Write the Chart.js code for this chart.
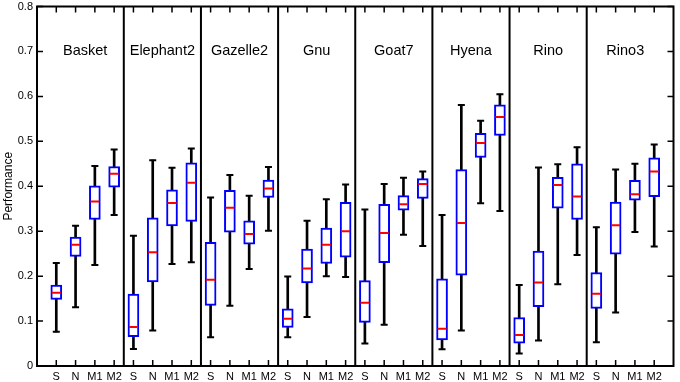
<!DOCTYPE html>
<html>
<head>
<meta charset="utf-8">
<script src="https://cdn.jsdelivr.net/npm/chart.js@4"></script>
<style>
  body { margin: 0; background: #fff; }
  #wrap { width: 680px; height: 382px; }
</style>
</head>
<body>
<div id="wrap"><canvas id="myChart" width="680" height="382"></canvas></div>
<script>
/*----------------------------data------------------------------------*/
var groups = ['Basket', 'Elephant2', 'Gazelle2', 'Gnu', 'Goat7', 'Hyena', 'Rino', 'Rino3'];
var methods = ['S', 'N', 'M1', 'M2'];

// one value per box, 4 boxes per group (S, N, M1, M2)
var mins = [
  0.076, 0.131, 0.225, 0.336,
  0.038, 0.079, 0.227, 0.231,
  0.064, 0.134, 0.216, 0.301,
  0.064, 0.109, 0.200, 0.198,
  0.050, 0.092, 0.292, 0.267,
  0.037, 0.079, 0.362, 0.345,
  0.028, 0.057, 0.182, 0.247,
  0.053, 0.119, 0.298, 0.266
];
var q1s = [
  0.148, 0.244, 0.326, 0.398,
  0.065, 0.187, 0.312, 0.322,
  0.135, 0.298, 0.271, 0.375,
  0.086, 0.185, 0.228, 0.242,
  0.097, 0.230, 0.347, 0.373,
  0.058, 0.202, 0.464, 0.513,
  0.051, 0.132, 0.351, 0.326,
  0.128, 0.249, 0.369, 0.377
];
var medians = [
  0.163, 0.270, 0.366, 0.428,
  0.087, 0.253, 0.363, 0.408,
  0.192, 0.352, 0.294, 0.395,
  0.105, 0.217, 0.270, 0.300,
  0.141, 0.296, 0.360, 0.405,
  0.083, 0.318, 0.496, 0.554,
  0.069, 0.186, 0.403, 0.377,
  0.161, 0.313, 0.382, 0.433
];
var q3s = [
  0.180, 0.287, 0.401, 0.444,
  0.160, 0.330, 0.392, 0.452,
  0.275, 0.391, 0.323, 0.414,
  0.127, 0.260, 0.307, 0.364,
  0.190, 0.360, 0.379, 0.417,
  0.194, 0.437, 0.518, 0.581,
  0.108, 0.256, 0.420, 0.450,
  0.208, 0.365, 0.413, 0.463
];
var maxs = [
  0.229, 0.312, 0.445, 0.482,
  0.290, 0.458, 0.441, 0.484,
  0.375, 0.425, 0.379, 0.443,
  0.199, 0.323, 0.371, 0.404,
  0.348, 0.405, 0.419, 0.433,
  0.336, 0.581, 0.546, 0.605,
  0.180, 0.442, 0.449, 0.487,
  0.309, 0.437, 0.450, 0.493
];
var yTicks = [0, 0.1, 0.2, 0.3, 0.4, 0.5, 0.6, 0.7, 0.8];

/*----------------------------build------------------------------------*/
// one empty slot at each end gives the extra margin of the original axes
var labels = [''];
groups.forEach(function () { labels = labels.concat(methods); });
labels.push('');

function pad(arr) { return [null].concat(arr, [null]); }

var boxData = pad(q1s.map(function (v, i) { return [v, q3s[i]]; }));
var whiskerData = pad(mins.map(function (v, i) { return [v, maxs[i]]; }));

var FONT = '"Liberation Sans", Arial, Helvetica, sans-serif';

var framePlugin = {
  id: 'frame',
  afterDraw: function (chart) {
    var ctx = chart.ctx, a = chart.chartArea;
    var xs = chart.scales.x, ys = chart.scales.y;
    ctx.save();
    ctx.strokeStyle = '#000';
    ctx.lineWidth = 1.5;
    // inward tick marks
    ctx.beginPath();
    for (var i = 1; i < labels.length - 1; i++) {
      var x = xs.getPixelForValue(i);
      ctx.moveTo(x, a.bottom); ctx.lineTo(x, a.bottom - 6);
      ctx.moveTo(x, a.top); ctx.lineTo(x, a.top + 6);
    }
    yTicks.forEach(function (t) {
      var y = ys.getPixelForValue(t);
      ctx.moveTo(a.left, y); ctx.lineTo(a.left + 6, y);
      ctx.moveTo(a.right, y); ctx.lineTo(a.right - 6, y);
    });
    ctx.stroke();
    // group separators
    ctx.lineWidth = 2;
    ctx.beginPath();
    for (var g = 1; g < groups.length; g++) {
      var sx = (xs.getPixelForValue(g * 4) + xs.getPixelForValue(g * 4 + 1)) / 2;
      ctx.moveTo(sx, a.top); ctx.lineTo(sx, a.bottom);
    }
    ctx.stroke();
    ctx.strokeRect(a.left, a.top, a.right - a.left, a.bottom - a.top);
    // group names
    ctx.fillStyle = '#000';
    ctx.font = '14.5px ' + FONT;
    ctx.textAlign = 'center';
    ctx.textBaseline = 'middle';
    var ty = ys.getPixelForValue(0.70);
    groups.forEach(function (name, g) {
      var cx = (xs.getPixelForValue(g * 4 + 1) + xs.getPixelForValue(g * 4 + 4)) / 2;
      ctx.fillText(name, cx, ty);
    });
    ctx.restore();
  }
};

new Chart('myChart', {
  type: 'bar',
  data: {
    labels: labels,
    datasets: [
      {
        type: 'line', order: 1, data: pad(medians), showLine: false,
        pointStyle: 'line', pointRadius: 4.5, pointBorderWidth: 2,
        borderColor: '#ff0000', backgroundColor: '#ff0000'
      },
      {
        type: 'line', order: 2, data: pad(maxs), showLine: false,
        pointStyle: 'line', pointRadius: 3.5, pointBorderWidth: 2,
        borderColor: '#000', backgroundColor: '#000'
      },
      {
        type: 'line', order: 2, data: pad(mins), showLine: false,
        pointStyle: 'line', pointRadius: 3.5, pointBorderWidth: 2,
        borderColor: '#000', backgroundColor: '#000'
      },
      {
        type: 'bar', order: 3, data: boxData, grouped: false,
        barThickness: 11, backgroundColor: '#fff', borderColor: '#0000ff',
        borderWidth: 2, borderSkipped: false
      },
      {
        type: 'bar', order: 4, data: whiskerData, grouped: false,
        barThickness: 2, backgroundColor: '#000', borderWidth: 0
      }
    ]
  },
  options: {
    responsive: false,
    animation: false,
    layout: { padding: { top: 5, right: 2, left: 0, bottom: 0 } },
    plugins: { legend: { display: false }, tooltip: { enabled: false } },
    scales: {
      x: {
        offset: false,
        grid: { display: false, drawTicks: false },
        border: { display: false },
        ticks: {
          autoSkip: false, maxRotation: 0, padding: 4,
          color: '#000', font: { family: FONT, size: 11 }
        },
        afterFit: function (s) {
          s.height = 16;
          s.paddingLeft = 0; s.paddingRight = 0;
        }
      },
      y: {
        min: 0, max: 0.8,
        grid: { display: false, drawTicks: false },
        border: { display: false },
        afterBuildTicks: function (s) {
          s.ticks = yTicks.map(function (v) { return { value: v }; });
        },
        ticks: {
          padding: 4, color: '#000', font: { family: FONT, size: 11 },
          callback: function (v) { return v === 0 ? '0' : v.toFixed(1); }
        },
        title: {
          display: true, text: 'Performance', color: '#000',
          font: { family: FONT, size: 12 }, padding: { top: 1, bottom: 0 }
        },
        afterFit: function (s) {
          s.width = 37;
          s.paddingTop = 0; s.paddingBottom = 0;
        }
      }
    }
  },
  plugins: [framePlugin]
});
</script>
</body>
</html>
